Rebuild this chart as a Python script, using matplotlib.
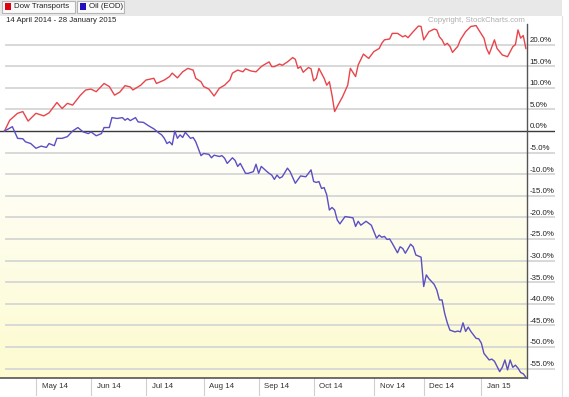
#!/usr/bin/env python3
import numpy as np
import matplotlib
matplotlib.use('Agg')
import matplotlib.pyplot as plt
from matplotlib.patches import Rectangle

plt.rcParams['font.family'] = ['Liberation Sans', 'DejaVu Sans']

title_text = '14 April 2014 - 28 January 2015'
series_names = ['Dow Transports', 'Oil (EOD)']
n_days = 200  # trading days 14 Apr 2014 .. 28 Jan 2015

# month labels and the trading-day index where each month starts
month_labels = ['May 14', 'Jun 14', 'Jul 14', 'Aug 14', 'Sep 14', 'Oct 14', 'Nov 14', 'Dec 14', 'Jan 15']
month_start = [12, 33, 54, 76, 97, 118, 141, 160, 182]

y_ticks = [20, 15, 10, 5, 0, -5, -10, -15, -20, -25, -30, -35, -40, -45, -50, -55]

# Dow Transports, % change (trading-day index, value)
dow_day = [0, 2, 5, 7, 9, 10, 12, 15, 17, 20, 22, 24, 26, 29, 31, 33, 35, 38, 40, 42,
           44, 46, 48, 49, 52, 54, 57, 58, 61, 63, 64, 66, 68, 70, 72, 73, 75, 76, 78, 80,
           82, 84, 86, 87, 89, 91, 92, 94, 96, 98, 99, 101, 102, 103, 105, 106, 108, 110, 111, 112,
           113, 114, 116, 117, 118, 119, 120, 122, 123, 124, 125, 126, 128, 129, 131, 132, 134, 135, 137, 138,
           139, 141, 143, 144, 145, 147, 148, 150, 152, 153, 154, 156, 158, 159, 160, 162, 164, 165, 166, 167,
           168, 169, 170, 171, 173, 174, 176, 178, 180, 181, 183, 184, 185, 187, 188, 190, 192, 194, 195, 196,
           197, 198, 199]
dow_pct = [0.0, 2.5, 4.1, 4.5, 2.3, 2.9, 4.1, 3.5, 4.2, 6.6, 5.2, 6.4, 6.0, 8.3, 9.5, 9.7, 9.1, 11.0, 10.3, 8.3,
           9.0, 10.5, 10.2, 9.5, 10.6, 11.8, 12.2, 11.0, 11.8, 12.6, 13.4, 12.3, 13.7, 14.5, 14.1, 12.2, 11.4, 10.3, 9.7, 8.1,
           9.9, 10.6, 11.8, 13.4, 14.1, 13.7, 14.4, 13.9, 13.7, 14.9, 15.3, 16.0, 14.9, 14.9, 15.5, 15.2, 16.0, 17.0, 16.6, 14.5,
           14.9, 13.6, 14.7, 14.4, 11.6, 12.2, 14.5, 12.2, 10.6, 11.4, 8.3, 4.5, 6.8, 7.9, 10.6, 14.5, 12.6, 15.3, 17.8, 17.3,
           16.8, 18.4, 19.1, 20.3, 21.1, 21.3, 22.6, 22.6, 21.8, 22.1, 21.6, 23.0, 24.3, 24.2, 21.1, 23.0, 23.6, 23.4, 21.8, 21.1,
           19.9, 20.3, 19.6, 18.2, 19.6, 21.1, 23.0, 24.2, 24.4, 23.4, 21.5, 19.1, 17.8, 21.1, 19.1, 17.6, 17.2, 19.5, 20.0, 23.4,
           21.5, 22.1, 19.1]

# Oil (EOD), % change
oil_day = [0, 3, 5, 7, 8, 10, 12, 14, 16, 17, 19, 20, 22, 24, 26, 28, 30, 32, 33, 35,
           37, 38, 40, 41, 43, 45, 46, 47, 48, 50, 51, 53, 55, 57, 59, 60, 61, 62, 63, 64,
           65, 66, 67, 68, 69, 71, 72, 73, 75, 76, 78, 79, 80, 82, 83, 84, 85, 87, 88, 89,
           90, 92, 93, 95, 96, 97, 98, 100, 101, 102, 103, 104, 105, 106, 108, 109, 111, 113, 115, 117,
           118, 119, 120, 121, 122, 123, 124, 125, 126, 127, 128, 130, 132, 133, 134, 135, 136, 138, 140, 142,
           143, 144, 145, 146, 147, 148, 150, 151, 152, 153, 155, 156, 157, 159, 160, 161, 162, 164, 165, 166,
           167, 168, 169, 170, 172, 173, 174, 175, 176, 177, 178, 180, 181, 182, 183, 185, 186, 187, 189, 190,
           191, 192, 193, 194, 195, 196, 197, 198, 199]
oil_pct = [0.0, 1.0, -1.7, -1.8, -2.5, -2.9, -4.0, -3.5, -3.8, -2.9, -3.4, -1.7, -1.7, -1.3, 0.0, 0.8, -0.2, -0.6, -0.2, -1.1,
           -0.6, 0.8, 0.8, 3.1, 2.9, 3.1, 2.5, 2.9, 2.4, 3.1, 2.1, 2.0, 1.2, 0.5, -0.5, -0.9, -1.7, -2.9, -2.5, -3.2,
           0.0, -1.7, -0.9, -1.5, -0.3, -1.7, -1.5, -2.5, -5.7, -5.2, -5.4, -6.2, -5.6, -5.9, -5.7, -6.3, -7.5, -6.2, -6.8, -8.2,
           -7.5, -9.8, -9.8, -9.4, -7.7, -9.8, -8.2, -9.3, -9.8, -10.2, -11.2, -10.2, -10.9, -10.6, -8.6, -9.4, -12.1, -10.4, -10.6, -9.0,
           -11.7, -11.9, -11.7, -13.3, -13.1, -14.8, -18.3, -17.7, -18.3, -20.6, -21.5, -19.8, -20.0, -20.1, -22.1, -20.9, -21.8, -20.9, -21.8, -24.8,
           -24.1, -24.6, -24.4, -25.1, -25.0, -26.0, -28.2, -26.8, -27.2, -28.3, -26.2, -26.8, -28.7, -29.2, -36.0, -33.3, -34.2, -35.5, -36.8, -39.1,
           -39.1, -42.2, -44.4, -46.1, -46.5, -46.3, -46.5, -44.4, -46.4, -45.4, -46.4, -48.0, -48.1, -49.1, -51.5, -53.0, -52.8, -53.3, -55.7, -54.7,
           -53.0, -55.3, -53.0, -54.7, -54.2, -54.9, -55.9, -56.2, -57.0]

W, H = 569, 397
PX_DAY = 2.62   # pixels per trading day
PX_PCT = 4.32   # pixels per percent


def fx(x):
    return x / W


def fy(y):
    return 1 - y / H


fig = plt.figure(figsize=(W / 100, H / 100), dpi=100)
fig.patch.set_facecolor('white')

ax_top, ax_bot, ax_right = 24, 378, 555
ax = fig.add_axes([0, fy(ax_bot), fx(ax_right), (ax_bot - ax_top) / H])
x0 = -4.5 / PX_DAY
x1 = (ax_right - 4.5) / PX_DAY
y_lo = -(ax_bot - 131) / PX_PCT
y_hi = (131 - ax_top) / PX_PCT
ax.set_xlim(x0, x1)
ax.set_ylim(y_lo, y_hi)
ax.axis('off')

x_end = n_days - 0.5

# yellow gradient below zero
grad = np.linspace(0, 1, 256).reshape(-1, 1)
top_c = np.array([1.0, 1.0, 1.0])
bot_c = np.array([0xFD, 0xFB, 0xCF]) / 255
img = top_c + (bot_c - top_c) * grad[..., None]
ax.imshow(img, extent=[x0, x_end, y_lo, 0], origin='upper', aspect='auto', zorder=0)

for t in y_ticks:
    if t != 0:
        ax.plot([0.5, x1], [t, t], color='#d6d6d6', lw=1.3, zorder=1)
    ax.text(x_end + 1.0, t + 0.15, f'{t:.1f}%', fontsize=5.7, color='#222222',
            ha='left', va='bottom', zorder=3)
ax.plot([x0, x1], [0, 0], color='#3a3a3a', lw=1.0, zorder=2)

# right axis line and bottom axis line
ax.plot([x_end, x_end], [y_lo, y_hi], color='#555555', lw=1.0, zorder=4, clip_on=False)
ax.plot([x0, x_end], [y_lo, y_lo], color='#555555', lw=1.2, zorder=4, clip_on=False)

ax.plot(dow_day, dow_pct, color='#e8454b', lw=1.0, zorder=5)
ax.plot(oil_day, oil_pct, color='#5b4fc4', lw=1.0, zorder=5)

# month separators and labels under the chart
trans = ax.get_xaxis_transform()
lab_h = (ax_bot - ax_top)
for lab, d in zip(month_labels, month_start):
    ax.plot([d, d], [0, -17 / lab_h], color='#d0d0d0', lw=0.8, transform=trans, clip_on=False)
    ax.text(d + 2.2, -8.7 / lab_h, lab, fontsize=5.7, color='#333333', ha='left', va='center',
            transform=trans)

# header bar with legend buttons
fig.patches.append(Rectangle((0, fy(16)), fx(562), 16 / H, transform=fig.transFigure,
                             fc='#e8e8e8', ec='none', zorder=0))
buttons = [(1.5, 74.5), (76.5, 124)]
sq_colors = ['#e00010', '#2010c0']
for (bx0, bx1), name, c in zip(buttons, series_names, sq_colors):
    fig.patches.append(Rectangle((fx(bx0), fy(13)), fx(bx1 - bx0), 12.5 / H, transform=fig.transFigure,
                                 fc='#fafafa', ec='#b5b5b5', lw=0.8, zorder=1))
    fig.patches.append(Rectangle((fx(bx0 + 3.5), fy(9.5)), fx(6), 6 / H, transform=fig.transFigure,
                                 fc=c, ec='none', zorder=2))
    fig.text(fx(bx0 + 12.5), fy(6.8), name, fontsize=5.7, color='#222222', ha='left', va='center')

fig.text(fx(6), fy(21), title_text, fontsize=5.6, color='#222222', ha='left', va='center')
fig.text(fx(525), fy(20.5), 'Copyright, StockCharts.com', fontsize=5.6, color='#b0b0b0',
         ha='right', va='center')

# faint frame line on the far right
fig.add_artist(plt.Line2D([fx(562), fx(562)], [0, fy(16)], transform=fig.transFigure,
                          color='#e2e2e2', lw=0.8))

fig.savefig('out.png', dpi=100)
